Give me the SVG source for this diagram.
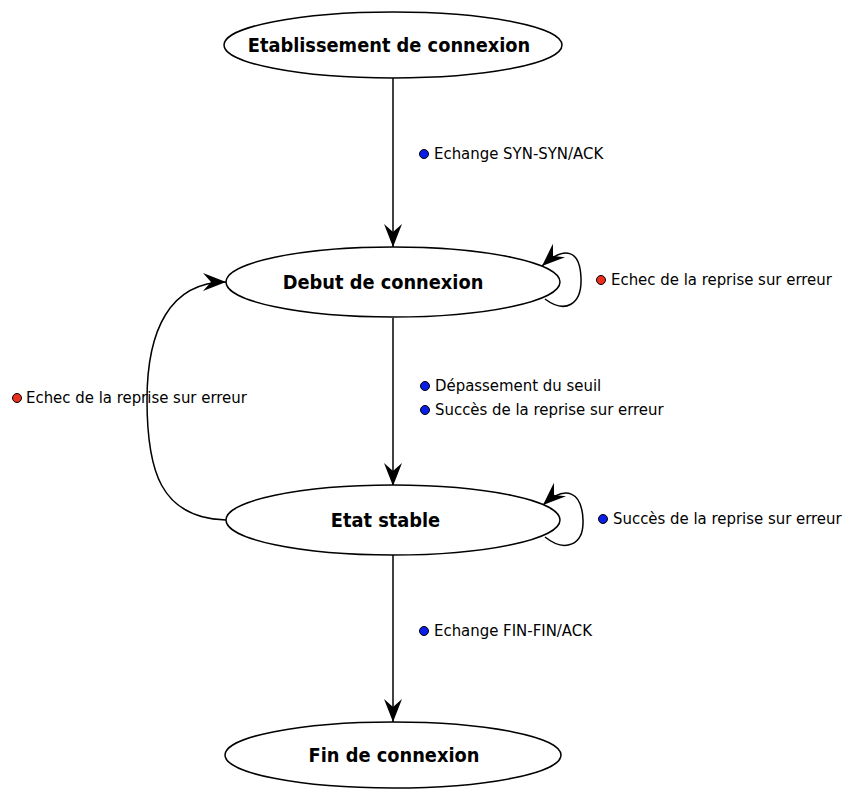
<svg xmlns="http://www.w3.org/2000/svg" width="843" height="790" viewBox="0 0 843 790">
<style>
.node ellipse{fill:#fff;stroke:#000;stroke-width:1.5}
.node text{font-family:"DejaVu Sans Condensed","DejaVu Sans",sans-serif;font-stretch:condensed;font-weight:bold;font-size:19.8px;text-anchor:middle;fill:#000}
.edge{fill:none;stroke:#000;stroke-width:1.5;marker-end:url(#arr)}
.lbl{font-family:"DejaVu Sans Condensed","DejaVu Sans",sans-serif;font-stretch:condensed;font-size:16.6px;fill:#000}
.blue{fill:#0a1ee6;stroke:#000;stroke-width:1}
.red{fill:#e8301c;stroke:#000;stroke-width:1}
</style>
<defs>
<marker id="arr" viewBox="-26 -11 28 22" refX="0" refY="0" markerWidth="28" markerHeight="22" markerUnits="userSpaceOnUse" orient="auto">
<path d="M0 0 L-23 -9 L-15 0 L-23 9 Z" fill="#000"/>
</marker>
</defs>
<rect width="843" height="790" fill="#fff"/>
<g id="connectors">
<path class="edge" d="M393 78 L393 247"/>
<path class="edge" d="M393 318 L393 486"/>
<path class="edge" d="M393 555 L393 722"/>
<path class="edge" d="M545 299 C565 314 582 305 581 278 C580 250 565 245 542 266"/>
<path class="edge" d="M545 537 C565 553 584 545 583 520 C582 492 566 484 543 505"/>
<path class="edge" d="M226 520 C160 518 147 470 147 400 C147 330 170 282 226 282"/>
</g>
<g id="labels">
<circle class="blue" cx="424" cy="154" r="4.5"/>
<text class="lbl" x="434" y="159">Echange SYN-SYN/ACK</text>
<circle class="red" cx="601" cy="280" r="4.5"/>
<text class="lbl" x="611" y="285">Echec de la reprise sur erreur</text>
<circle class="red" cx="17" cy="398" r="4.5"/>
<text class="lbl" x="26" y="403">Echec de la reprise sur erreur</text>
<circle class="blue" cx="425" cy="386" r="4.5"/>
<text class="lbl" x="435" y="391">Dépassement du seuil</text>
<circle class="blue" cx="425" cy="410" r="4.5"/>
<text class="lbl" x="435" y="415">Succès de la reprise sur erreur</text>
<circle class="blue" cx="603" cy="519" r="4.5"/>
<text class="lbl" x="613" y="524">Succès de la reprise sur erreur</text>
<circle class="blue" cx="424" cy="631" r="4.5"/>
<text class="lbl" x="434" y="636">Echange FIN-FIN/ACK</text>
</g>
<g id="n1" class="node">
<ellipse cx="393" cy="45" rx="169" ry="33"/>
<text x="389" y="52">Etablissement de connexion</text>
</g>
<g id="n2" class="node">
<ellipse cx="393" cy="282" rx="167" ry="35"/>
<text x="383" y="289">Debut de connexion</text>
</g>
<g id="n3" class="node">
<ellipse cx="393" cy="520" rx="167" ry="35"/>
<text x="385.5" y="527">Etat stable</text>
</g>
<g id="n4" class="node">
<ellipse cx="393" cy="755" rx="168" ry="33"/>
<text x="394" y="762">Fin de connexion</text>
</g>
</svg>
